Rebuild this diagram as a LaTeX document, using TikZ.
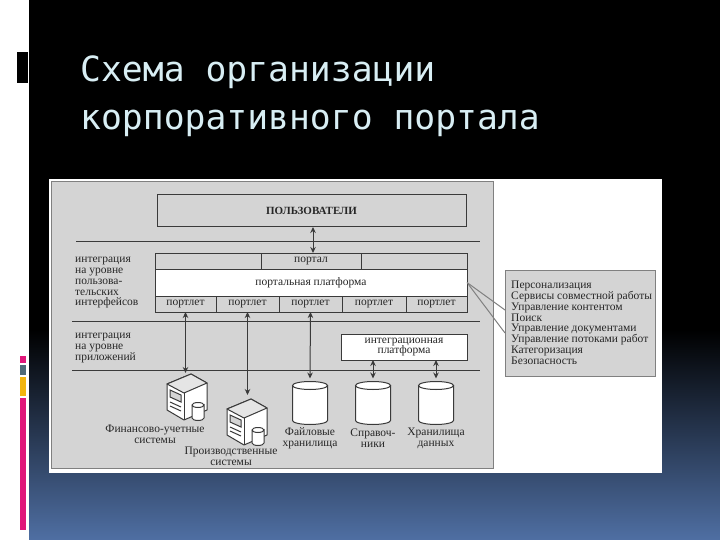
\documentclass[tikz,border=0pt]{standalone}
\usepackage{fontspec}
\setmainfont{Liberation Serif}
\newfontfamily\titlefont{DejaVu Sans Mono}
\usetikzlibrary{arrows.meta, positioning, calc}

\definecolor{panelgray}{HTML}{D4D4D4}
\definecolor{linegray}{HTML}{3A3A3A}
\definecolor{titleblue}{HTML}{D8EEF4}
\definecolor{slidepink}{HTML}{E0177A}
\definecolor{slideslate}{HTML}{4F6A78}
\definecolor{slideyellow}{HTML}{F2B50F}
\definecolor{slideblue}{HTML}{4F6FA3}

\begin{document}
\begin{tikzpicture}[
    x=1pt, y=-1pt,
    >={Stealth[length=6pt, width=5.5pt]},
    block/.style={rectangle, draw=linegray, line width=1pt, fill=panelgray, text=black!85, font=\fontsize{11.5}{10.8}\selectfont, inner sep=0pt, outer sep=0pt, align=center},
    whiteblock/.style={block, fill=white},
    label/.style={text=black!85, font=\fontsize{11.5}{10.8}\selectfont, inner sep=0pt, align=center},
    leftlabel/.style={label, align=left, anchor=north west},
    line/.style={draw=linegray, line width=1pt},
    link/.style={line, <->},
    store/.style={rectangle, minimum width=35pt, minimum height=43pt, inner sep=0pt, outer sep=0pt},
    server/.pic={
        \draw[line, fill=white, line join=round] (-20,-12) -- (4,-22) -- (20,-13) -- (20,14) -- (-3,24) -- (-20,14) -- cycle;
        \draw[line, fill=panelgray!60, line join=round] (-20,-12) -- (4,-22) -- (20,-13) -- (-3,-3) -- cycle;
        \draw[line] (-3,-3) -- (-3,24);
        \draw[line, fill=panelgray] (-17,-6) -- (-6,-1) -- (-6,6) -- (-17,1) -- cycle;
        \draw[line] (-17,6) -- (-6,11);
        \draw[line] (-17,10) -- (-6,15);
        \draw[line, fill=white] (5,9) -- (5,22) arc[start angle=180, end angle=360, x radius=6, y radius=-2.5] -- (17,9) arc[start angle=0, end angle=360, x radius=6, y radius=2.5];
    }
]

    % Slide background
    \fill[white] (0,0) rectangle (720,540);
    \fill[black] (29,0) rectangle (720,330);
    \shade[top color=black, bottom color=slideblue] (29,330) rectangle (720,540);
    \fill[black] (17,52) rectangle (28,83);
    \fill[slidepink] (20,356) rectangle (26,363);
    \fill[slideslate] (20,365) rectangle (26,375);
    \fill[slideyellow] (20,377) rectangle (26,396);
    \fill[slidepink] (20,398) rectangle (26,530);

    % Title
    \node[anchor=base west, inner sep=0pt, text=titleblue, font=\titlefont\fontsize{34.7}{36}\selectfont] (title1) at (80,82) {Схема организации};
    \node[anchor=base west, inner sep=0pt, text=titleblue, font=\titlefont\fontsize{34.7}{36}\selectfont] (title2) at (80,130) {корпоративного портала};

    % Scheme background
    \fill[white] (49,179) rectangle (662,473);
    \draw[draw=gray, fill=panelgray, line width=1pt] (51,182) rectangle (493,468);

    % Separators
    \coordinate (rule1w) at (76,241);
    \coordinate (rule1e) at (480,241);
    \coordinate (rule2w) at (72,321);
    \coordinate (rule2e) at (480,321);
    \coordinate (rule3w) at (72,370);
    \coordinate (rule3e) at (480,370);
    \draw[line] (rule1w) -- (rule1e);
    \draw[line] (rule2w) -- (rule2e);
    \draw[line] (rule3w) -- (rule3e);

    % Nodes
    \node[block, minimum width=309pt, minimum height=32pt, font=\fontsize{11}{11}\bfseries\selectfont] (users) at (311.5,211) {ПОЛЬЗОВАТЕЛИ};

    \node[block, minimum width=106pt, minimum height=16pt] (portalA) at (208,261) {};
    \node[block, minimum width=100pt, minimum height=16pt, right=0pt of portalA] (portal) {портал};
    \node[block, minimum width=106pt, minimum height=16pt, right=0pt of portal] (portalC) {};
    \node[whiteblock, minimum width=312pt, minimum height=27pt] (platform) at (311,282.5) {портальная платформа};

    \node[block, minimum width=61pt, minimum height=16pt] (portlet1) at (185.5,304) {портлет};
    \node[block, minimum width=63pt, minimum height=16pt, right=0pt of portlet1] (portlet2) {портлет};
    \node[block, minimum width=63pt, minimum height=16pt, right=0pt of portlet2] (portlet3) {портлет};
    \node[block, minimum width=64pt, minimum height=16pt, right=0pt of portlet3] (portlet4) {портлет};
    \node[block, minimum width=61pt, minimum height=16pt, right=0pt of portlet4] (portlet5) {портлет};

    \node[whiteblock, minimum width=126pt, minimum height=26pt] (integration) at (404,347) {интеграционная\\платформа};

    \node[store] (files) at (310,403) {};
    \node[store] (refs) at (373,403) {};
    \node[store] (warehouse) at (436,403) {};
    \foreach \n in {files, refs, warehouse} {
        \draw[line, fill=white] ($(\n.north west)+(0,4)$) -- ($(\n.south west)+(0,-4)$) arc[start angle=180, end angle=360, x radius=17.5, y radius=-4] -- ($(\n.north east)+(0,4)$) -- cycle;
        \draw[line, fill=white] ($(\n.north)+(0,4)$) ellipse [x radius=17.5, y radius=4];
    }

    \pic at (187,396) {server};
    \pic at (247,421) {server};
    \coordinate (finance) at (186,373);
    \coordinate (production) at (247.5,395);

    % Labels
    \node[leftlabel] (level1) at (75,257) {интеграция\\на уровне\\пользова-\\тельских\\интерфейсов};
    \node[leftlabel] (level2) at (75,333) {интеграция\\на уровне\\приложений};
    \node[label] (financetext) at (155,434.5) {Финансово-учетные\\системы};
    \node[label] (productiontext) at (231,456) {Производственные\\системы};
    \node[label] (filestext) at (310,438.5) {Файловые\\хранилища};
    \node[label] (refstext) at (373,438.5) {Справоч-\\ники};
    \node[label] (warehousetext) at (436,438.5) {Хранилища\\данных};

    % Callout
    \node[block, draw=gray, fill=panelgray, minimum width=150pt, minimum height=106pt] (features) at (580,323) {};
    \node[leftlabel] (featurestext) at (511,281) {Персонализация\\Сервисы совместной работы\\Управление контентом\\Поиск\\Управление документами\\Управление потоками работ\\Категоризация\\Безопасность};
    \coordinate (calloutA) at (505,310);
    \coordinate (calloutB) at (505,333);
    \draw[draw=gray, line width=1pt] (platform.east) -- (calloutA);
    \draw[draw=gray, line width=1pt] (platform.east) -- (calloutB);

    % Connections
    \path[link] ([xshift=1.5pt]users.south) -- ([xshift=1.5pt]users.south |- portal.north);
    \path[link] (portlet1.south) -- (portlet1.south |- finance);
    \path[link] (portlet2.south) -- (portlet2.south |- production);
    \path[link] (portlet3.south) -- ([yshift=3pt]files.north);
    \path[link] (refs.north |- integration.south) -- ([yshift=3pt]refs.north);
    \path[link] (warehouse.north |- integration.south) -- ([yshift=3pt]warehouse.north);

\end{tikzpicture}
\end{document}
